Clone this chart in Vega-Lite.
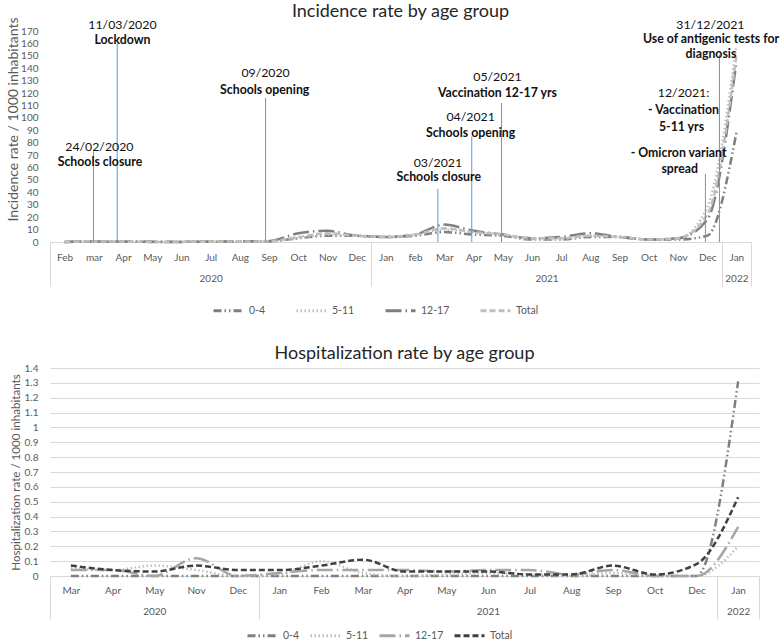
{
  "$schema": "https://vega.github.io/schema/vega-lite/v6.json",
  "padding": {"left": 6, "top": 3, "right": 0, "bottom": 0},
  "background": "white",
  "config": {
    "font": "Lato",
    "view": {"stroke": null},
    "axis": {"labelFont": "Lato", "titleFont": "Lato", "labelColor": "#595959", "titleColor": "#595959", "titleFontWeight": "normal", "labelFontSize": 10},
    "legend": {"labelFont": "Lato", "labelColor": "#595959", "labelFontSize": 10.5},
    "title": {"font": "Lato", "fontWeight": "normal", "color": "#262626", "fontSize": 18}
  },
  "datasets": {
    "inc": [
      {"i":0,"g":"0-4","v":0},{"i":1,"g":"0-4","v":0.3},{"i":2,"g":"0-4","v":0.2},{"i":3,"g":"0-4","v":0.1},{"i":4,"g":"0-4","v":0.1},{"i":5,"g":"0-4","v":0.2},{"i":6,"g":"0-4","v":0.3},{"i":7,"g":"0-4","v":0.5},{"i":8,"g":"0-4","v":3},{"i":9,"g":"0-4","v":5},{"i":10,"g":"0-4","v":5},{"i":11,"g":"0-4","v":4},{"i":12,"g":"0-4","v":5},{"i":13,"g":"0-4","v":8},{"i":14,"g":"0-4","v":6},{"i":15,"g":"0-4","v":5},{"i":16,"g":"0-4","v":2},{"i":17,"g":"0-4","v":2},{"i":18,"g":"0-4","v":4},{"i":19,"g":"0-4","v":4},{"i":20,"g":"0-4","v":2},{"i":21,"g":"0-4","v":2},{"i":22,"g":"0-4","v":5},{"i":23,"g":"0-4","v":88},
      {"i":0,"g":"5-11","v":0},{"i":1,"g":"5-11","v":0.3},{"i":2,"g":"5-11","v":0.2},{"i":3,"g":"5-11","v":0.1},{"i":4,"g":"5-11","v":0.1},{"i":5,"g":"5-11","v":0.2},{"i":6,"g":"5-11","v":0.3},{"i":7,"g":"5-11","v":0.5},{"i":8,"g":"5-11","v":3},{"i":9,"g":"5-11","v":6},{"i":10,"g":"5-11","v":5},{"i":11,"g":"5-11","v":4},{"i":12,"g":"5-11","v":6},{"i":13,"g":"5-11","v":10},{"i":14,"g":"5-11","v":8},{"i":15,"g":"5-11","v":6},{"i":16,"g":"5-11","v":2},{"i":17,"g":"5-11","v":2},{"i":18,"g":"5-11","v":5},{"i":19,"g":"5-11","v":4},{"i":20,"g":"5-11","v":2},{"i":21,"g":"5-11","v":3},{"i":22,"g":"5-11","v":28},{"i":23,"g":"5-11","v":158},
      {"i":0,"g":"12-17","v":0},{"i":1,"g":"12-17","v":0.5},{"i":2,"g":"12-17","v":0.3},{"i":3,"g":"12-17","v":0.2},{"i":4,"g":"12-17","v":0.1},{"i":5,"g":"12-17","v":0.3},{"i":6,"g":"12-17","v":0.5},{"i":7,"g":"12-17","v":0.8},{"i":8,"g":"12-17","v":7},{"i":9,"g":"12-17","v":9},{"i":10,"g":"12-17","v":5},{"i":11,"g":"12-17","v":4},{"i":12,"g":"12-17","v":6},{"i":13,"g":"12-17","v":14},{"i":14,"g":"12-17","v":9},{"i":15,"g":"12-17","v":6},{"i":16,"g":"12-17","v":3},{"i":17,"g":"12-17","v":4},{"i":18,"g":"12-17","v":7},{"i":19,"g":"12-17","v":4},{"i":20,"g":"12-17","v":2},{"i":21,"g":"12-17","v":3},{"i":22,"g":"12-17","v":18},{"i":23,"g":"12-17","v":145},
      {"i":0,"g":"Total","v":0},{"i":1,"g":"Total","v":0.4},{"i":2,"g":"Total","v":0.3},{"i":3,"g":"Total","v":0.1},{"i":4,"g":"Total","v":0.1},{"i":5,"g":"Total","v":0.3},{"i":6,"g":"Total","v":0.4},{"i":7,"g":"Total","v":0.6},{"i":8,"g":"Total","v":4},{"i":9,"g":"Total","v":7},{"i":10,"g":"Total","v":5},{"i":11,"g":"Total","v":4},{"i":12,"g":"Total","v":6},{"i":13,"g":"Total","v":11},{"i":14,"g":"Total","v":8},{"i":15,"g":"Total","v":6},{"i":16,"g":"Total","v":3},{"i":17,"g":"Total","v":3},{"i":18,"g":"Total","v":5},{"i":19,"g":"Total","v":4},{"i":20,"g":"Total","v":2},{"i":21,"g":"Total","v":3},{"i":22,"g":"Total","v":22},{"i":23,"g":"Total","v":150}
    ],
    "events": [
      {"x":0.99,"top":73},{"x":1.80,"top":160},{"x":6.88,"top":116},{"x":12.78,"top":43},{"x":13.94,"top":85},{"x":14.96,"top":112},{"x":21.94,"top":55},{"x":22.42,"top":151}
    ],
    "notes": [
      {"kind":"date","label":"24/02/2020","x":1.19,"y":76.4},
      {"kind":"desc","label":"Schools closure","x":1.21,"y":64.3},
      {"kind":"date","label":"11/03/2020","x":1.98,"y":175.2},
      {"kind":"desc","label":"Lockdown","x":1.98,"y":162.4},
      {"kind":"date","label":"09/2020","x":6.88,"y":135.9},
      {"kind":"desc","label":"Schools opening","x":6.85,"y":122.2},
      {"kind":"date","label":"03/2021","x":12.78,"y":63.5},
      {"kind":"desc","label":"Schools closure","x":12.81,"y":52.3},
      {"kind":"date","label":"04/2021","x":13.9,"y":100.5},
      {"kind":"desc","label":"Schools opening","x":13.9,"y":87.6},
      {"kind":"date","label":"05/2021","x":14.82,"y":132.6},
      {"kind":"desc","label":"Vaccination 12-17 yrs","x":14.82,"y":119.8},
      {"kind":"date","label":"31/12/2021","x":22.11,"y":175.2},
      {"kind":"desc","label":"Use of antigenic tests for","x":22.13,"y":163.2},
      {"kind":"desc","label":"diagnosis","x":22.13,"y":151.1},
      {"kind":"date","label":"12/2021:","x":21.19,"y":119.8},
      {"kind":"desc","label":"- Vaccination","x":21.19,"y":106},
      {"kind":"desc","label":"5-11 yrs","x":21.12,"y":92.3},
      {"kind":"desc","label":"- Omicron variant","x":21.02,"y":71.6},
      {"kind":"desc","label":"spread","x":21.06,"y":58.7}
    ],
    "hosp": [
      {"i":0,"g":"0-4","v":0},{"i":1,"g":"0-4","v":0},{"i":2,"g":"0-4","v":0},{"i":3,"g":"0-4","v":0},{"i":4,"g":"0-4","v":0},{"i":5,"g":"0-4","v":0},{"i":6,"g":"0-4","v":0},{"i":7,"g":"0-4","v":0},{"i":8,"g":"0-4","v":0},{"i":9,"g":"0-4","v":0},{"i":10,"g":"0-4","v":0},{"i":11,"g":"0-4","v":0},{"i":12,"g":"0-4","v":0},{"i":13,"g":"0-4","v":0},{"i":14,"g":"0-4","v":0},{"i":15,"g":"0-4","v":0},{"i":16,"g":"0-4","v":1.31},
      {"i":0,"g":"5-11","v":0.05},{"i":1,"g":"5-11","v":0.04},{"i":2,"g":"5-11","v":0.07},{"i":3,"g":"5-11","v":0.04},{"i":4,"g":"5-11","v":0},{"i":5,"g":"5-11","v":0.01},{"i":6,"g":"5-11","v":0.1},{"i":7,"g":"5-11","v":0.02},{"i":8,"g":"5-11","v":0},{"i":9,"g":"5-11","v":0.01},{"i":10,"g":"5-11","v":0.02},{"i":11,"g":"5-11","v":0.01},{"i":12,"g":"5-11","v":0},{"i":13,"g":"5-11","v":0.02},{"i":14,"g":"5-11","v":0},{"i":15,"g":"5-11","v":0},{"i":16,"g":"5-11","v":0.2},
      {"i":0,"g":"12-17","v":0.04},{"i":1,"g":"12-17","v":0.04},{"i":2,"g":"12-17","v":0},{"i":3,"g":"12-17","v":0.12},{"i":4,"g":"12-17","v":0},{"i":5,"g":"12-17","v":0.02},{"i":6,"g":"12-17","v":0.04},{"i":7,"g":"12-17","v":0.04},{"i":8,"g":"12-17","v":0.04},{"i":9,"g":"12-17","v":0.03},{"i":10,"g":"12-17","v":0.04},{"i":11,"g":"12-17","v":0.04},{"i":12,"g":"12-17","v":0.01},{"i":13,"g":"12-17","v":0.04},{"i":14,"g":"12-17","v":0},{"i":15,"g":"12-17","v":0},{"i":16,"g":"12-17","v":0.33},
      {"i":0,"g":"Total","v":0.07},{"i":1,"g":"Total","v":0.04},{"i":2,"g":"Total","v":0.03},{"i":3,"g":"Total","v":0.07},{"i":4,"g":"Total","v":0.04},{"i":5,"g":"Total","v":0.04},{"i":6,"g":"Total","v":0.07},{"i":7,"g":"Total","v":0.11},{"i":8,"g":"Total","v":0.03},{"i":9,"g":"Total","v":0.03},{"i":10,"g":"Total","v":0.03},{"i":11,"g":"Total","v":0.01},{"i":12,"g":"Total","v":0.01},{"i":13,"g":"Total","v":0.07},{"i":14,"g":"Total","v":0.01},{"i":15,"g":"Total","v":0.08},{"i":16,"g":"Total","v":0.53}
    ]
  },
  "spacing": 28,
  "vconcat": [
    {
      "width": 701,
      "height": 211,
      "title": {"text": "Incidence rate by age group", "offset": -4},
      "layer": [
        {
          "data": {"name": "inc"},
          "mark": {"type": "line", "interpolate": "monotone", "strokeWidth": 2.5},
          "encoding": {
            "x": {"field": "i", "type": "quantitative", "scale": {"domain": [-0.5, 23.5], "nice": false, "zero": false},
              "axis": {"orient": "bottom", "title": null, "grid": false, "ticks": false, "domainColor": "#d9d9d9", "labelPadding": 10,
                "values": [0,1,2,3,4,5,6,7,8,9,10,11,12,13,14,15,16,17,18,19,20,21,22,23],
                "labelExpr": "['Feb','mar','Apr','May','Jun','Jul','Aug','Sep','Oct','Nov','Dec','Jan','feb','Mar','Apr','May','Jun','Jul','Aug','Sep','Oct','Nov','Dec','Jan'][datum.value]"}},
            "y": {"field": "v", "type": "quantitative", "scale": {"domain": [0, 170], "nice": false},
              "axis": {"orient": "left", "title": "Incidence rate / 1000 inhabitants", "titleFontSize": 14, "titlePadding": 3, "titleY": 88, "grid": false, "domain": false, "ticks": false, "labelPadding": 12, "minExtent": 27, "maxExtent": 27,
                "values": [0,10,20,30,40,50,60,70,80,90,100,110,120,130,140,150,160,170]}},
            "color": {"field": "g", "type": "nominal", "scale": {"domain": ["0-4","5-11","12-17","Total"], "range": ["#7f7f7f","#bfbfbf","#7f7f7f","#bfbfbf"]},
              "legend": {"title": null, "orient": "none", "direction": "horizontal", "legendX": 162, "legendY": 263, "symbolType": "stroke", "symbolStrokeWidth": 3, "symbolSize": 900, "columnPadding": 24, "labelOffset": 4}},
            "strokeDash": {"field": "g", "type": "nominal", "scale": {"domain": ["0-4","5-11","12-17","Total"], "range": [[8,3,1.5,3,1.5,3],[1.5,2.5],[16,4,1.5,4],[6,3]]},
              "legend": {"title": null, "orient": "none", "direction": "horizontal", "legendX": 162, "legendY": 263, "symbolType": "stroke", "symbolStrokeWidth": 3, "symbolSize": 900, "columnPadding": 24, "labelOffset": 4}}
          }
        },
        {
          "data": {"name": "events"},
          "mark": {"type": "rule", "color": "#5b9bd5", "strokeWidth": 1},
          "encoding": {
            "x": {"field": "x", "type": "quantitative",
              "axis": {"orient": "bottom", "title": null, "grid": false, "labels": false, "domain": false, "ticks": true, "tickSize": 44, "tickColor": "#d9d9d9", "values": [-0.5, 10.5, 22.5, 23.5]}},
            "y": {"field": "top", "type": "quantitative", "axis": null},
            "y2": {"datum": 0}
          }
        },
        {
          "data": {"name": "notes"},
          "transform": [{"filter": "datum.kind == 'date'"}],
          "mark": {"type": "text", "font": "Lato", "fontSize": 12.3, "color": "#111111", "align": "center", "baseline": "middle"},
          "encoding": {
            "x": {"field": "x", "type": "quantitative",
              "axis": {"orient": "bottom", "title": null, "grid": false, "ticks": false, "domain": false, "labelPadding": 31, "values": [5, 16.5, 23],
                "labelExpr": "datum.value < 10 ? '2020' : datum.value < 20 ? '2021' : '2022'"}},
            "y": {"field": "y", "type": "quantitative", "axis": null},
            "text": {"field": "label"}
          }
        },
        {
          "data": {"name": "notes"},
          "transform": [{"filter": "datum.kind == 'desc'"}],
          "mark": {"type": "text", "font": "Lato", "fontSize": 12.3, "fontWeight": "bold", "color": "#111111", "align": "center", "baseline": "middle"},
          "encoding": {
            "x": {"field": "x", "type": "quantitative", "axis": null},
            "y": {"field": "y", "type": "quantitative", "axis": null},
            "text": {"field": "label"}
          }
        }
      ],
      "resolve": {"axis": {"x": "independent", "y": "independent"}}
    },
    {
      "width": 709,
      "height": 208,
      "title": {"text": "Hospitalization rate by age group", "offset": 0},
      "layer": [
        {
          "data": {"name": "hosp"},
          "mark": {"type": "line", "interpolate": "monotone", "strokeWidth": 2.5},
          "encoding": {
            "x": {"field": "i", "type": "quantitative", "scale": {"domain": [-0.5, 16.5], "nice": false, "zero": false},
              "axis": {"orient": "bottom", "title": null, "grid": false, "ticks": false, "domainColor": "#d9d9d9", "labelPadding": 9,
                "values": [0,1,2,3,4,5,6,7,8,9,10,11,12,13,14,15,16],
                "labelExpr": "['Mar','Apr','May','Nov','Dec','Jan','Feb','Mar','Apr','May','Jun','Jul','Aug','Sep','Oct','Dec','Jan'][datum.value]"}},
            "y": {"field": "v", "type": "quantitative", "scale": {"domain": [0, 1.4], "nice": false},
              "axis": {"orient": "left", "title": "Hospitalization rate / 1000 inhabitants", "titleFontSize": 11.6, "titlePadding": 3, "grid": true, "gridColor": "#d9d9d9", "domain": false, "ticks": false, "labelPadding": 12, "minExtent": 26, "maxExtent": 26,
                "values": [0,0.1,0.2,0.3,0.4,0.5,0.6,0.7,0.8,0.9,1,1.1,1.2,1.3,1.4],
                "labelExpr": "format(datum.value, '.1~f')"}},
            "color": {"field": "g", "type": "nominal", "scale": {"domain": ["0-4","5-11","12-17","Total"], "range": ["#7f7f7f","#bfbfbf","#a6a6a6","#404040"]},
              "legend": {"title": null, "orient": "none", "direction": "horizontal", "legendX": 196, "legendY": 251, "symbolType": "stroke", "symbolStrokeWidth": 3, "symbolSize": 900, "columnPadding": 4, "labelOffset": 4}},
            "strokeDash": {"field": "g", "type": "nominal", "scale": {"domain": ["0-4","5-11","12-17","Total"], "range": [[8,3,1.5,3,1.5,3],[1.5,2.5],[16,4,1.5,4],[6,3]]},
              "legend": {"title": null, "orient": "none", "direction": "horizontal", "legendX": 196, "legendY": 251, "symbolType": "stroke", "symbolStrokeWidth": 3, "symbolSize": 900, "columnPadding": 4, "labelOffset": 4}}
          }
        },
        {
          "data": {"name": "hosp"},
          "transform": [{"filter": "datum.i == 0 && datum.g == 'Total'"}],
          "mark": {"type": "point", "opacity": 0},
          "encoding": {
            "x": {"field": "i", "type": "quantitative",
              "axis": {"orient": "bottom", "title": null, "grid": false, "labels": false, "domain": false, "ticks": true, "tickSize": 43, "tickColor": "#d9d9d9", "values": [-0.5, 4.5, 15.5, 16.5]}},
            "y": {"field": "v", "type": "quantitative", "axis": null}
          }
        },
        {
          "data": {"name": "hosp"},
          "transform": [{"filter": "datum.i == 0 && datum.g == 'Total'"}],
          "mark": {"type": "point", "opacity": 0},
          "encoding": {
            "x": {"field": "i", "type": "quantitative",
              "axis": {"orient": "bottom", "title": null, "grid": false, "ticks": false, "domain": false, "labelPadding": 30, "values": [2, 10, 16],
                "labelExpr": "datum.value < 5 ? '2020' : datum.value < 16 ? '2021' : '2022'"}},
            "y": {"field": "v", "type": "quantitative", "axis": null}
          }
        }
      ],
      "resolve": {"axis": {"x": "independent", "y": "independent"}}
    }
  ],
  "resolve": {"scale": {"color": "independent", "strokeDash": "independent"}}
}
